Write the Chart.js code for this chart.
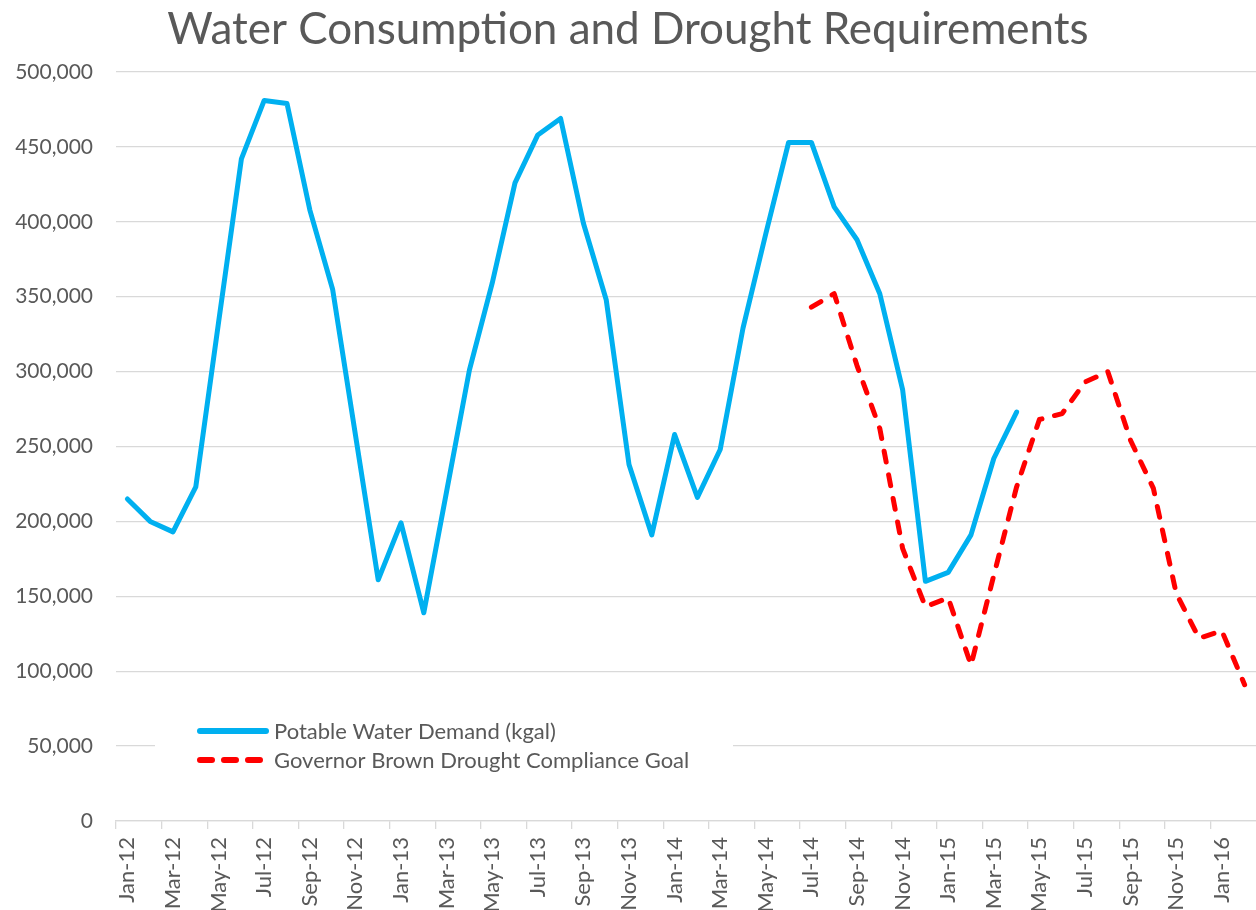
<!DOCTYPE html>
<html lang="en">
<head>
    <meta charset="UTF-8">
    <title>Water Consumption and Drought Requirements</title>
    <script src="https://cdn.jsdelivr.net/npm/chart.js"></script>
    <style>
        html, body { margin: 0; padding: 0; background: #fff; }
        #wrap { width: 1256px; height: 910px; }
    </style>
</head>
<body>
    <div id="wrap"><canvas id="waterChart"></canvas></div>

    <script>
        const months = [
            'Jan-12', 'Feb-12', 'Mar-12', 'Apr-12', 'May-12', 'Jun-12', 'Jul-12', 'Aug-12', 'Sep-12', 'Oct-12', 'Nov-12', 'Dec-12',
            'Jan-13', 'Feb-13', 'Mar-13', 'Apr-13', 'May-13', 'Jun-13', 'Jul-13', 'Aug-13', 'Sep-13', 'Oct-13', 'Nov-13', 'Dec-13',
            'Jan-14', 'Feb-14', 'Mar-14', 'Apr-14', 'May-14', 'Jun-14', 'Jul-14', 'Aug-14', 'Sep-14', 'Oct-14', 'Nov-14', 'Dec-14',
            'Jan-15', 'Feb-15', 'Mar-15', 'Apr-15', 'May-15', 'Jun-15', 'Jul-15', 'Aug-15', 'Sep-15', 'Oct-15', 'Nov-15', 'Dec-15',
            'Jan-16', 'Feb-16'
        ];

        // potable water demand (kgal), data stops after Apr-15
        const demand = [
            215000, 200000, 193000, 223000, 333000, 442000, 481000, 479000, 408000, 355000, 258000, 161000,
            199000, 139000, 220000, 301000, 359000, 426000, 458000, 469000, 399000, 348000, 238000, 191000,
            258000, 216000, 248000, 329000, 392000, 453000, 453000, 410000, 388000, 352000, 288000, 160000,
            166000, 191000, 242000, 273000, null, null, null, null, null, null, null, null,
            null, null
        ];

        // drought compliance goal, starts Jul-14
        const goal = [
            null, null, null, null, null, null, null, null, null, null, null, null,
            null, null, null, null, null, null, null, null, null, null, null, null,
            null, null, null, null, null, null, 343000, 352000, 304000, 262000, 182000, 143000,
            149000, 104000, 164000, 223000, 268000, 272000, 293000, 300000, 254000, 222000, 152000, 122000,
            127000, 91000
        ];

        const yTicks = [0, 50000, 100000, 150000, 200000, 250000, 300000, 350000, 400000, 450000, 500000];

        const textColor = '#595959';
        const gridColor = '#d9d9d9';
        const fontFamily = 'Lato, "Open Sans", sans-serif';

        // legend sits inside the plot, bottom left, on a white box
        const insideLegend = {
            id: 'insideLegend',
            beforeDatasetsDraw(chart) {
                const ctx = chart.ctx;
                const area = chart.chartArea;
                const boxX = area.left + 39;
                const boxY = area.bottom - 110;
                ctx.save();
                ctx.fillStyle = '#ffffff';
                ctx.fillRect(boxX, boxY, 578, 76);
                ctx.font = '22px ' + fontFamily;
                ctx.textBaseline = 'middle';
                chart.data.datasets.forEach((ds, i) => {
                    const y = boxY + 20 + i * 29;
                    const x0 = boxX + 45;
                    ctx.strokeStyle = ds.borderColor;
                    ctx.lineWidth = 6;
                    ctx.lineCap = 'round';
                    ctx.setLineDash(ds.borderDash ? [12, 12] : []);
                    ctx.beginPath();
                    ctx.moveTo(x0, y);
                    ctx.lineTo(x0 + 66, y);
                    ctx.stroke();
                    ctx.setLineDash([]);
                    ctx.fillStyle = textColor;
                    ctx.fillText(ds.label, x0 + 74, y + 1);
                });
                ctx.restore();
            }
        };

        const ctx = document.getElementById('waterChart').getContext('2d');
        new Chart(ctx, {
            type: 'line',
            data: {
                labels: months,
                datasets: [{
                    label: 'Potable Water Demand (kgal)',
                    data: demand,
                    borderColor: '#00b0f0',
                    backgroundColor: '#00b0f0',
                    borderWidth: 5,
                    borderCapStyle: 'round',
                    borderJoinStyle: 'round',
                    pointRadius: 0,
                    spanGaps: false,
                    tension: 0
                }, {
                    label: 'Governor Brown Drought Compliance Goal',
                    data: goal,
                    borderColor: '#ff0000',
                    backgroundColor: '#ff0000',
                    borderWidth: 5,
                    borderDash: [11, 13],
                    borderCapStyle: 'round',
                    borderJoinStyle: 'round',
                    pointRadius: 0,
                    spanGaps: false,
                    tension: 0
                }]
            },
            options: {
                responsive: true,
                maintainAspectRatio: false,
                animation: false,
                layout: { padding: 0 },
                plugins: {
                    legend: { display: false },
                    tooltip: { enabled: false },
                    title: {
                        display: true,
                        text: 'Water Consumption and Drought Requirements',
                        color: textColor,
                        font: { family: fontFamily, size: 44, weight: 'normal', lineHeight: 1.2 },
                        padding: { top: 3, bottom: 16.2 }
                    }
                },
                scales: {
                    x: {
                        offset: true,
                        grid: {
                            offset: true,
                            drawOnChartArea: false,
                            drawTicks: true,
                            tickLength: 8,
                            color: (c) => (c.index % 2 === 0 ? gridColor : 'rgba(0,0,0,0)'),
                            lineWidth: 1.3
                        },
                        border: { display: true, color: gridColor, width: 1.3 },
                        ticks: {
                            autoSkip: false,
                            minRotation: 90,
                            maxRotation: 90,
                            padding: 8,
                            color: textColor,
                            font: { family: fontFamily, size: 22 },
                            callback: (val, i) => (i % 2 === 0 ? months[i] : '')
                        },
                        afterFit: (scale) => {
                            scale.height = 89;
                            scale.paddingLeft = 0;
                            scale.paddingRight = 0;
                        }
                    },
                    y: {
                        min: 0,
                        max: 500000,
                        afterBuildTicks: (scale) => { scale.ticks = yTicks.map(v => ({ value: v })); },
                        grid: { color: gridColor, lineWidth: 1.3, drawTicks: false },
                        border: { display: false },
                        ticks: {
                            padding: 23,
                            color: textColor,
                            font: { family: fontFamily, size: 21 },
                            callback: (v) => v.toLocaleString('en-US')
                        },
                        afterFit: (scale) => { scale.width = 116; }
                    }
                }
            },
            plugins: [insideLegend]
        });
    </script>
</body>
</html>
